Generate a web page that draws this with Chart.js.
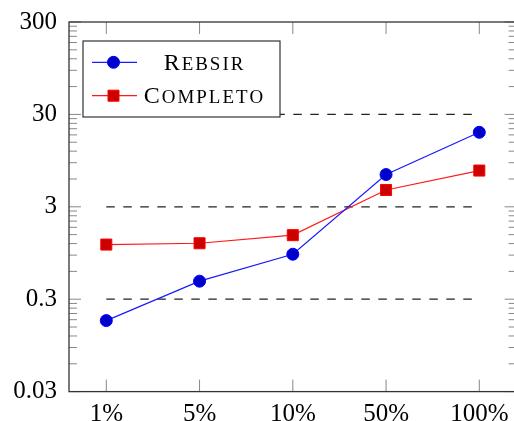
<!DOCTYPE html>
<html>
<head>
<meta charset="utf-8">
<script src="https://cdn.jsdelivr.net/npm/chart.js@4.4.1/dist/chart.umd.min.js"></script>
<style>
  html, body { margin: 0; padding: 0; background: #fff; overflow: hidden; }
  #wrap { width: 514px; height: 421px; overflow: hidden; }
</style>
</head>
<body>
<div id="wrap"><canvas id="chart" width="530" height="421"></canvas></div>
<script>
const categories = ['1%', '5%', '10%', '50%', '100%'];
const rebsir = [0.176, 0.47, 0.92, 6.7, 19.2];
const completo = [1.17, 1.21, 1.48, 4.56, 7.4];
const yTicks = [0.03, 0.3, 3, 30, 300];

const serif = "'Liberation Serif', 'Times New Roman', serif";
const tickFont = { family: serif, size: 25 };

// first letter full size, the rest as spaced-out small capitals
function smallCaps(ctx, text, cx, baseline, size) {
  const head = text[0];
  const tail = text.slice(1).toUpperCase().split('');
  const small = size * 0.79;
  const gap = 2;
  ctx.font = size + 'px ' + serif;
  const w1 = ctx.measureText(head).width;
  ctx.font = small + 'px ' + serif;
  let w2 = 0;
  tail.forEach(c => { w2 += ctx.measureText(c).width + gap; });
  let x = cx - (w1 + w2) / 2;
  ctx.textAlign = 'left';
  ctx.textBaseline = 'alphabetic';
  ctx.font = size + 'px ' + serif;
  ctx.fillText(head, x, baseline);
  x += w1 + gap;
  ctx.font = small + 'px ' + serif;
  tail.forEach(c => {
    ctx.fillText(c, x, baseline);
    x += ctx.measureText(c).width + gap;
  });
}

// box, inward ticks, minor log ticks and the dashed levels
const axisBox = {
  id: 'axisBox',
  beforeDatasetsDraw(chart) {
    const { ctx, chartArea: a, scales: { x, y } } = chart;
    ctx.save();
    ctx.strokeStyle = '#222';
    ctx.lineWidth = 1.2;
    ctx.setLineDash([8.5, 8.5]);
    const x0 = x.getPixelForValue(0);
    const x1 = x.getPixelForValue(categories.length - 1);
    yTicks.slice(1, -1).forEach(v => {
      const py = y.getPixelForValue(v);
      ctx.beginPath();
      ctx.moveTo(x0, py);
      ctx.lineTo(x1, py);
      ctx.stroke();
    });
    ctx.setLineDash([]);

    ctx.strokeStyle = '#888';
    ctx.lineWidth = 1;
    const hline = (py, len) => {
      ctx.beginPath();
      ctx.moveTo(a.left, py); ctx.lineTo(a.left + len, py);
      ctx.moveTo(a.right, py); ctx.lineTo(a.right - len, py);
      ctx.stroke();
    };
    yTicks.forEach((v, i) => {
      hline(y.getPixelForValue(v), 12);
      if (i < yTicks.length - 1) {
        for (let k = 2; k <= 9; k++) hline(y.getPixelForValue(v * k), 8);
      }
    });
    categories.forEach((c, i) => {
      const px = x.getPixelForValue(i);
      ctx.beginPath();
      ctx.moveTo(px, a.bottom); ctx.lineTo(px, a.bottom - 12);
      ctx.moveTo(px, a.top); ctx.lineTo(px, a.top + 12);
      ctx.stroke();
    });
    ctx.restore();
  },
  afterDatasetsDraw(chart) {
    const { ctx, chartArea: a } = chart;
    ctx.save();
    ctx.strokeStyle = '#333';
    ctx.lineWidth = 1.3;
    ctx.strokeRect(a.left, a.top, a.right - a.left, a.bottom - a.top);
    ctx.restore();
  },
  afterDraw(chart) {
    const ctx = chart.ctx;
    ctx.save();
    ctx.fillStyle = '#fff';
    ctx.fillRect(83, 41, 197, 76);
    ctx.strokeStyle = '#333';
    ctx.lineWidth = 1.2;
    ctx.strokeRect(83, 41, 197, 76);
    chart.data.datasets.forEach((ds, i) => {
      const ry = 62.3 + i * 33.4;
      ctx.strokeStyle = ds.borderColor;
      ctx.lineWidth = ds.borderWidth;
      ctx.beginPath();
      ctx.moveTo(92, ry);
      ctx.lineTo(137, ry);
      ctx.stroke();
      ctx.fillStyle = ds.pointBackgroundColor;
      ctx.strokeStyle = ds.pointBorderColor;
      ctx.lineWidth = 1;
      ctx.beginPath();
      if (ds.pointStyle === 'rect') {
        const s = ds.pointRadius * Math.SQRT1_2;
        ctx.rect(113.5 - s, ry - s, 2 * s, 2 * s);
      } else {
        ctx.arc(113.5, ry, ds.pointRadius, 0, Math.PI * 2);
      }
      ctx.fill();
      ctx.stroke();
      ctx.fillStyle = '#000';
      smallCaps(ctx, ds.label, 203.5, ry + 7.2, 24);
    });
    ctx.restore();
  }
};

const chart = document.querySelector('#chart').getContext('2d');

new Chart(chart, {
  type: 'line',
  data: {
    datasets: [
      {
        label: 'Rebsir',
        data: rebsir.map((v, i) => ({ x: i, y: v })),
        borderColor: '#1a1aff',
        borderWidth: 1.2,
        pointStyle: 'circle',
        pointRadius: 6,
        pointBackgroundColor: '#0000cc',
        pointBorderColor: '#0000ff',
        pointBorderWidth: 1
      },
      {
        label: 'Completo',
        data: completo.map((v, i) => ({ x: i, y: v })),
        borderColor: '#ff1a1a',
        borderWidth: 1.2,
        pointStyle: 'rect',
        pointRadius: 7.8,
        pointBackgroundColor: '#cc0000',
        pointBorderColor: '#ff0000',
        pointBorderWidth: 1
      }
    ]
  },
  options: {
    responsive: false,
    animation: false,
    layout: { padding: { top: 22, right: 13.4, left: 0, bottom: 0 } },
    plugins: { legend: { display: false }, tooltip: { enabled: false } },
    scales: {
      x: {
        type: 'linear',
        min: -0.4,
        max: 4.4,
        grid: { display: false },
        border: { display: false },
        afterBuildTicks: s => { s.ticks = categories.map((c, i) => ({ value: i })); },
        afterFit: s => { s.height = 29.4; },
        ticks: {
          font: tickFont,
          color: '#000',
          padding: 0,
          maxRotation: 0,
          autoSkip: false,
          callback: v => categories[v]
        }
      },
      y: {
        type: 'logarithmic',
        min: 0.03,
        max: 300,
        grid: { display: false },
        border: { display: false },
        afterBuildTicks: s => { s.ticks = yTicks.map(v => ({ value: v })); },
        afterFit: s => { s.width = 69; },
        ticks: {
          font: tickFont,
          color: '#000',
          padding: 4,
          callback: v => String(v)
        }
      }
    }
  },
  plugins: [axisBox]
});
</script>
</body>
</html>
